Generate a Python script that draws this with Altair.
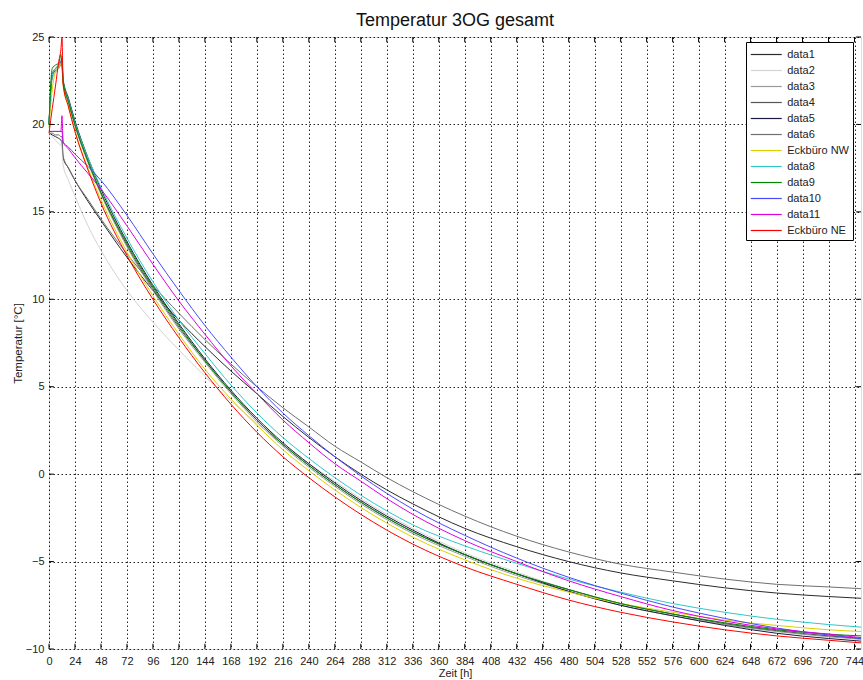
import altair as alt
import pandas as pd

# Sampling times in hours
hours = [0, 3, 6, 9, 11, 12, 13, 18, 24, 36, 48, 72, 96, 120, 144, 168, 192, 216,
         240, 264, 288, 312, 336, 384, 432, 480, 528, 576, 624, 672, 720, 750]

series_names = ["data1", "data2", "data3", "data4", "data5", "data6",
                "Eckbüro NW", "data8", "data9", "data10", "data11", "Eckbüro NE"]
series_colors = ["#2b2b2b", "#d4d4d4", "#9a9a9a", "#555555", "#1c1c40", "#707070",
                 "#dcd000", "#30c8c8", "#008800", "#4a4aff", "#e000e0", "#ff0000"]

data1 = [19.5, 19.4, 19.3, 19.2, 19.1, 19.0, 18.1, 17.5, 16.8, 15.6, 14.5, 12.4, 10.5, 8.8, 7.3, 5.9,
         4.6, 3.3, 2.1, 1.0, 0.0, -0.9, -1.7, -3.1, -4.15, -5.0, -5.65, -6.1, -6.5, -6.8, -7.0, -7.1]
data2 = [19.5, 19.3, 19.1, 18.9, 18.8, 18.7, 17.7, 16.8, 15.9, 14.2, 12.8, 10.5, 8.7, 7.1, 5.6, 4.2,
         2.9, 1.7, 0.6, -0.4, -1.4, -2.3, -3.1, -4.5, -5.6, -6.6, -7.4, -8.0, -8.5, -8.9, -9.25, -9.4]
data3 = [20.0, 22.6, 23.0, 23.2, 23.4, 23.5, 22.4, 21.2, 19.9, 17.8, 16.0, 13.0, 10.5, 8.3, 6.4, 4.6,
         3.0, 1.6, 0.4, -0.7, -1.7, -2.6, -3.4, -4.7, -5.8, -6.7, -7.5, -8.1, -8.6, -9.0, -9.3, -9.45]
data4 = [20.0, 22.9, 23.2, 23.4, 23.6, 23.6, 22.5, 21.3, 20.0, 17.9, 16.1, 13.1, 10.6, 8.4, 6.5, 4.7,
         3.1, 1.7, 0.5, -0.6, -1.6, -2.5, -3.3, -4.6, -5.7, -6.6, -7.4, -8.0, -8.55, -8.95, -9.25, -9.4]
data5 = [20.0, 22.8, 23.1, 23.3, 23.6, 23.8, 22.6, 21.5, 20.2, 18.1, 16.3, 13.3, 10.8, 8.6, 6.6, 4.8,
         3.2, 1.8, 0.6, -0.5, -1.5, -2.4, -3.2, -4.6, -5.7, -6.7, -7.5, -8.1, -8.65, -9.1, -9.4, -9.55]
data6 = [19.5, 19.5, 19.4, 19.4, 19.3, 19.3, 18.2, 17.5, 16.8, 15.7, 14.6, 12.6, 10.8, 9.2, 7.7, 6.3,
         5.0, 3.8, 2.7, 1.6, 0.7, -0.2, -1.0, -2.4, -3.55, -4.45, -5.15, -5.6, -6.0, -6.3, -6.45, -6.55]
eck_nw = [19.8, 22.0, 23.0, 23.3, 23.5, 23.6, 22.3, 21.0, 19.6, 17.5, 15.7, 12.7, 10.2, 8.0, 6.0, 4.3,
          2.8, 1.4, 0.2, -0.9, -1.9, -2.8, -3.6, -4.9, -5.95, -6.75, -7.4, -7.9, -8.35, -8.65, -8.9, -9.0]
data8 = [20.0, 22.8, 23.2, 23.4, 23.6, 23.6, 22.5, 21.4, 20.1, 18.1, 16.4, 13.5, 11.0, 8.8, 6.9, 5.1,
         3.5, 2.1, 0.9, -0.2, -1.2, -2.1, -2.9, -4.1, -5.1, -6.0, -6.75, -7.4, -7.9, -8.3, -8.6, -8.75]
data9 = [20.0, 23.2, 23.4, 23.5, 24.0, 23.3, 22.5, 21.3, 20.0, 17.9, 16.1, 13.2, 10.7, 8.5, 6.5, 4.7,
         3.1, 1.7, 0.5, -0.6, -1.6, -2.5, -3.3, -4.6, -5.7, -6.6, -7.4, -8.0, -8.5, -8.9, -9.15, -9.25]
data10 = [19.6, 19.6, 19.6, 19.6, 19.6, 19.6, 19.0, 18.7, 18.3, 17.6, 16.8, 14.8, 12.6, 10.5, 8.5, 6.7,
          5.0, 3.5, 2.2, 1.0, -0.1, -1.1, -2.0, -3.5, -4.8, -5.9, -6.8, -7.6, -8.25, -8.8, -9.2, -9.4]
data11 = [19.6, 19.6, 19.6, 19.6, 19.6, 20.5, 19.0, 18.6, 18.1, 17.2, 16.3, 14.2, 12.0, 9.9, 8.0, 6.2,
          4.6, 3.1, 1.8, 0.6, -0.4, -1.4, -2.3, -3.8, -5.0, -6.1, -7.0, -7.8, -8.4, -8.85, -9.15, -9.35]
eck_ne = [19.5, 20.9, 22.2, 23.6, 24.3, 25.0, 22.3, 21.0, 19.6, 17.4, 15.5, 12.5, 10.0, 7.8, 5.8, 4.0,
          2.4, 1.0, -0.2, -1.3, -2.3, -3.2, -4.0, -5.3, -6.3, -7.2, -7.9, -8.45, -8.9, -9.25, -9.5, -9.65]

series_values = [data1, data2, data3, data4, data5, data6,
                 eck_nw, data8, data9, data10, data11, eck_ne]

x_ticks = list(range(0, 745, 24))
y_ticks = [-10, -5, 0, 5, 10, 15, 20, 25]
x_min, x_max = 0, 750
y_min, y_max = -10, 25

rows = []
for order, (name, vals) in enumerate(zip(series_names, series_values)):
    for t, v in zip(hours, vals):
        rows.append({"Zeit": t, "Temperatur": v, "Serie": name, "order": order})
df = pd.DataFrame(rows)

FONT = "Liberation Sans"

x_scale = alt.Scale(domain=[x_min, x_max], nice=False, zero=False)
y_scale = alt.Scale(domain=[y_min, y_max], nice=False, zero=False)

x_axis = alt.Axis(values=x_ticks, tickCount=len(x_ticks) + 5, grid=True, gridColor="#000000",
                  gridDash=[1.5, 2.5], gridOpacity=0.85, ticks=False, domain=False,
                  labelFontSize=11, labelColor="#222222", labelPadding=6, labelOverlap=False,
                  labelFlush=False, title="Zeit [h]", titleFontSize=11,
                  titleFontWeight="normal", titleColor="#222222", titlePadding=1,
                  labelFont=FONT, titleFont=FONT)
y_axis = alt.Axis(values=y_ticks, tickCount=len(y_ticks) + 5, grid=True, gridColor="#000000",
                  gridDash=[1.5, 2.5], gridOpacity=0.85, ticks=False, domain=False,
                  labelFontSize=11, labelColor="#222222", labelPadding=5, labelOverlap=False,
                  title="Temperatur [°C]", titleFontSize=11.5, titleFontWeight="normal",
                  titleColor="#222222", titlePadding=2, labelFont=FONT, titleFont=FONT)

# short horizontal line used as the legend key (31 px long at size 240)
legend_key = "M-2,0H2"

lines = alt.Chart(df).mark_line(strokeWidth=1, interpolate="monotone").encode(
    x=alt.X("Zeit:Q", scale=x_scale, axis=x_axis),
    y=alt.Y("Temperatur:Q", scale=y_scale, axis=y_axis),
    color=alt.Color(
        "Serie:N",
        scale=alt.Scale(domain=series_names, range=series_colors),
        legend=alt.Legend(
            title=None, orient="none", legendX=697, legendY=5,
            fillColor="#ffffff", strokeColor="#000000", padding=4,
            symbolType=legend_key, symbolSize=240, symbolStrokeWidth=1.2,
            labelFontSize=11, labelFont=FONT, labelColor="#222222",
            rowPadding=2, labelOffset=12.5, symbolOffset=7.75,
        ),
    ),
    order=alt.Order("order:Q"),
)

# inward tick marks on all four sides of the box
tick_len_y = 0.3   # in °C
tick_len_x = 4.5   # in hours
xt = pd.DataFrame({"t": x_ticks})
yt = pd.DataFrame({"v": y_ticks})
bottom_ticks = alt.Chart(xt).mark_rule(color="#000000", strokeWidth=1).encode(
    x=alt.X("t:Q", scale=x_scale, axis=x_axis), y=alt.datum(y_min), y2=alt.datum(y_min + tick_len_y))
top_ticks = alt.Chart(xt).mark_rule(color="#000000", strokeWidth=1).encode(
    x=alt.X("t:Q", scale=x_scale, axis=x_axis), y=alt.datum(y_max), y2=alt.datum(y_max - tick_len_y))
left_ticks = alt.Chart(yt).mark_rule(color="#000000", strokeWidth=1).encode(
    y=alt.Y("v:Q", scale=y_scale, axis=y_axis), x=alt.datum(x_min), x2=alt.datum(x_min + tick_len_x))
right_ticks = alt.Chart(yt).mark_rule(color="#000000", strokeWidth=1).encode(
    y=alt.Y("v:Q", scale=y_scale, axis=y_axis), x=alt.datum(x_max), x2=alt.datum(x_max - tick_len_x))

chart = alt.layer(lines, bottom_ticks, top_ticks, left_ticks, right_ticks).properties(
    width=812, height=612,
    title=alt.Title("Temperatur 3OG gesamt", fontSize=18, fontWeight="normal",
                    font=FONT, color="#111111", offset=1),
    autosize=alt.AutoSizeParams(type="none"),
    padding={"left": 49, "top": 37, "right": 2, "bottom": 31},
).configure_view(stroke="#000000", strokeWidth=1).configure(background="#ffffff")

chart.save("out.html", embed_options={"renderer": "svg", "actions": False})
